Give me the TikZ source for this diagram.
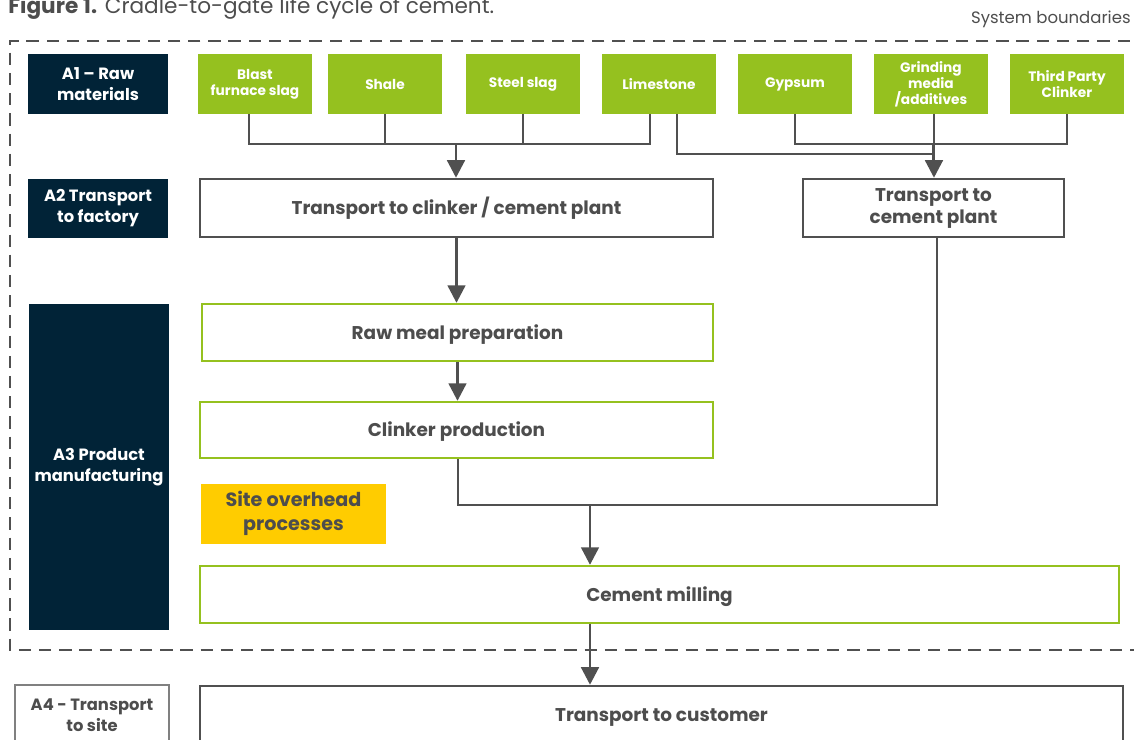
\documentclass[tikz,border=0pt]{standalone}
\usepackage{fontspec}
\setmainfont{Poppins}
\usetikzlibrary{arrows.meta,positioning}
\definecolor{navy}{HTML}{012337}
\definecolor{leaf}{HTML}{95C11F}
\definecolor{sun}{HTML}{FFCC00}
\definecolor{ash}{HTML}{505050}
\definecolor{ink}{HTML}{4D4D4D}
\newcommand{\px}{0.02cm}
\newcommand{\twolines}[2]{\begin{tabular}{@{}c@{}}\rule{0pt}{1.05\baselineskip}#1\\#2\end{tabular}}
\tikzset{
  stagelbl/.style={fill=navy, text=white, font=\bfseries\fontsize{9.3}{12}\selectfont,
    align=center, inner sep=0pt, minimum width=140*\px},
  rawmat/.style={fill=leaf, text=white, font=\bfseries\fontsize{7.8}{9.2}\selectfont,
    align=center, inner sep=0pt, outer sep=0pt, minimum width=114*\px, minimum height=60*\px},
  procbox/.style={draw=ash, line width=1.4pt, fill=white, text=ink,
    font=\bfseries\fontsize{10.5}{12.5}\selectfont, align=center, inner sep=0pt},
  millbox/.style={procbox, draw=leaf, line width=1.3pt},
  oneline/.style={text height=8.8pt, text depth=1pt},
  feed/.style={draw=ash, line width=0.9pt},
  flow/.style={draw=ash, line width=1.7pt, -{Triangle[length=10pt,width=10pt]}},
}
\begin{document}
\begin{tikzpicture}[x=0.02cm,y=-0.02cm]
  \clip (0,0) rectangle (1134,740);
  % caption and boundary
  \node[anchor=base west, text=ink, inner sep=0pt, font=\fontsize{12.3}{14}\selectfont] (title) at (8,14)
    {\textbf{Figure 1.} Cradle-to-gate life cycle of cement.};
  \node[anchor=base east, text=ink, inner sep=0pt, font=\fontsize{9.4}{11}\selectfont] (sysb) at (1131,24)
    {System boundaries};
  \draw[ash, line width=1.3pt, dash pattern=on 7pt off 4.5pt] (1150,41) -| (10,650) -- (1150,650);

  % stages
  \node[stagelbl, minimum height=60*\px] (a1) at (98,84) {A1 – Raw\\materials};
  \node[stagelbl, minimum height=59*\px] (a2) at (98,208.5) {A2 Transport\\to factory};
  \node[stagelbl, minimum height=326*\px] (a3) at (99,467) {A3 Product\\manufacturing};
  \node[procbox, draw=gray, line width=0.6pt, font=\bfseries\fontsize{9.3}{12}\selectfont,
    minimum width=154*\px, minimum height=60*\px] (a4) at (92,715) {A4 - Transport\\to site};

  % raw materials
  \node[rawmat] (blast) at (255,84) {Blast\\furnace slag};
  \node[rawmat, right=0.32cm of blast] (shale) {Shale};
  \node[rawmat, right=0.48cm of shale] (steel) {Steel slag};
  \node[rawmat, right=0.44cm of steel] (lime) {Limestone};
  \node[rawmat, right=0.44cm of lime] (gyps) {Gypsum};
  \node[rawmat, right=0.44cm of gyps] (grind) {Grinding\\media\\/additives};
  \node[rawmat, right=0.44cm of grind] (third) {Third Party\\Clinker};

  % processes
  \node[procbox, oneline, minimum width=513*\px, minimum height=58*\px] (tclink) at (456.5,208)
    {Transport to clinker / cement plant};
  \node[procbox, minimum width=261*\px, minimum height=58*\px] (tcem) at (933.5,208)
    {\twolines{Transport to}{cement plant}};
  \node[millbox, oneline, minimum width=511*\px, minimum height=57*\px] (rawmeal) at (457.5,332.5)
    {Raw meal preparation};
  \node[millbox, oneline, minimum width=513*\px, minimum height=56*\px] (clink) at (456.5,430)
    {Clinker production};
  \node[fill=sun, text=ink, font=\bfseries\fontsize{10.9}{13.6}\selectfont, align=center,
    inner sep=0pt, minimum width=185*\px, minimum height=60*\px] (overhead) at (293.5,514)
    {\twolines{Site overhead}{processes}};
  \node[millbox, oneline, minimum width=919*\px, minimum height=57*\px] (mill) at (659.5,594.5)
    {Cement milling};
  \node[procbox, oneline, minimum width=923*\px, minimum height=58*\px] (cust) at (661.5,715)
    {Transport to customer};

  % connectors
  \coordinate (hub) at (456,144);
  \coordinate (join) at (590,505);
  \coordinate (grindS) at ([xshift=0.06cm]grind.south);
  \coordinate (hub2) at (grindS |- hub);
  \coordinate (blastS) at ([xshift=-0.12cm]blast.south);
  \coordinate (limeL) at ([xshift=-0.18cm]lime.south);
  \coordinate (limeR) at ([xshift=0.36cm]lime.south);
  \draw[feed] (blastS) |- (limeL |- hub) -- (limeL);
  \draw[feed] (shale.south) -- (shale.south |- hub);
  \draw[feed] (steel.south) -- (steel.south |- hub);
  \draw[feed] (gyps.south) |- (third.south |- hub2) -- (third.south);
  \draw[feed] (limeR) |- ([yshift=-0.2cm]hub2);
  \draw[feed] (grindS) -- (hub2);
  \draw[flow] (hub) -- (hub |- tclink.north);
  \draw[flow] (hub2) -- (hub2 |- tcem.north);
  \draw[flow] (tclink.south) -- (tclink.south |- rawmeal.north);
  \draw[flow] (rawmeal.south) -- (rawmeal.south |- clink.north);
  \draw[flow, -] ([xshift=0.03cm]clink.south) |- ([xshift=0.07cm]tcem.south |- join)
    -- ([xshift=0.07cm]tcem.south);
  \draw[flow] (join) -- (join |- mill.north);
  \draw[flow] (join |- mill.south) -- (join |- cust.north);
\end{tikzpicture}
\end{document}
